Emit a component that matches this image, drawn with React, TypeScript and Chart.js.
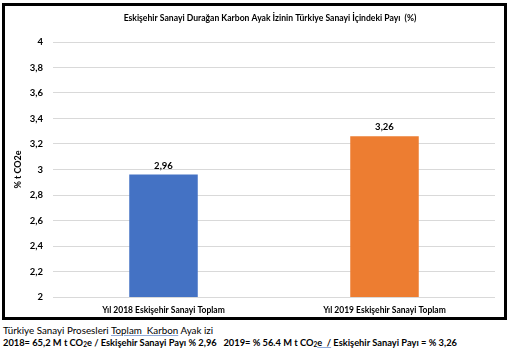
import React, { useEffect, useRef } from "react";
import { Chart, registerables } from "chart.js";

Chart.register(...registerables);

const categories = ["Yıl 2018 Eskişehir Sanayi Toplam", "Yıl 2019 Eskişehir Sanayi Toplam"];
const values = [2.96, 3.26];
const barColors = ["#4472C4", "#ED7D31"];
const titleText = "Eskişehir Sanayi Durağan Karbon Ayak İzinin Türkiye Sanayi İçindeki Payı  (%)";
const yAxisTitle = "% t CO2e";
const yMin = 2;
const yMax = 4;
const yStep = 0.2;

const FONT = "Lato, 'Open Sans', sans-serif";

const fmt = (v: number) => {
  const r = Math.round(v * 100) / 100;
  return String(r).replace(".", ",");
};

const valueLabels = {
  id: "valueLabels",
  afterDatasetsDraw(chart: any) {
    const ctx = chart.ctx;
    const meta = chart.getDatasetMeta(0);
    ctx.save();
    ctx.font = `bold 9.5px ${FONT}`;
    ctx.fillStyle = "#000";
    ctx.textAlign = "center";
    ctx.textBaseline = "middle";
    meta.data.forEach((el: any, i: number) => {
      ctx.fillText(fmt(values[i]), el.x, el.y - 9);
    });
    ctx.restore();
  },
};

const customTitle = {
  id: "customTitle",
  afterDraw(chart: any) {
    const ctx = chart.ctx;
    ctx.save();
    ctx.font = `bold 8.6px ${FONT}`;
    ctx.fillStyle = "#000";
    ctx.textAlign = "center";
    ctx.textBaseline = "middle";
    ctx.fillText(titleText, 265, 12);
    ctx.restore();
  },
};

export default function App() {
  const ref = useRef<HTMLCanvasElement>(null);
  useEffect(() => {
    if (!ref.current) return;
    const chart = new Chart(ref.current, {
      type: "bar",
      data: {
        labels: categories,
        datasets: [
          {
            data: values,
            backgroundColor: barColors,
            borderWidth: 0,
            categoryPercentage: 1,
            barPercentage: 0.31,
          },
        ],
      },
      options: {
        animation: false,
        responsive: false,
        maintainAspectRatio: false,
        layout: { padding: { top: 36, right: 9, bottom: 0, left: 0 } },
        plugins: {
          legend: { display: false },
          tooltip: { enabled: false },
          title: { display: false },
        },
        scales: {
          x: {
            grid: { display: false, drawTicks: false },
            border: { display: false },
            afterFit: (scale: any) => {
              scale.height = 20;
            },
            ticks: {
              color: "#000",
              font: { family: FONT, size: 8.5, weight: "bold" },
              padding: 8,
              maxRotation: 0,
            },
          },
          y: {
            min: yMin,
            max: yMax,
            grid: { color: "#d9d9d9", drawTicks: false },
            border: { display: false },
            afterFit: (scale: any) => {
              scale.width = 48;
            },
            ticks: {
              stepSize: yStep,
              color: "#000",
              padding: 10,
              font: { family: FONT, size: 9.5, weight: "bold" },
              callback: (v: any) => fmt(Number(v)),
            },
            title: {
              display: true,
              text: yAxisTitle,
              color: "#000",
              font: { family: FONT, size: 9, weight: "bold" },
              padding: { top: 8, bottom: 0 },
            },
          },
        },
      },
      plugins: [valueLabels, customTitle],
    });
    return () => chart.destroy();
  }, []);

  return (
    <div style={{ position: "fixed", left: 0, top: 0, width: 513, height: 353, background: "#fff", fontFamily: FONT }}>
      <div
        style={{
          position: "absolute",
          left: 2,
          top: 3,
          width: 499,
          height: 311,
          border: "3px solid #000",
        }}
      >
        <canvas ref={ref} width={499} height={311} style={{ display: "block", width: 499, height: 311 }} />
      </div>
      <div style={{ position: "absolute", left: 3, top: 323, fontSize: 9.8, color: "#000", whiteSpace: "nowrap", lineHeight: "14px" }}>
        Türkiye Sanayi Prosesleri{" "}
        <span style={{ textDecoration: "underline", textDecorationColor: "#8fa9d8" }}>Toplam&nbsp; Karbon</span> Ayak izi
      </div>
      <div style={{ position: "absolute", left: 3, top: 336, fontSize: 9.3, fontWeight: "bold", color: "#000", whiteSpace: "nowrap", lineHeight: "14px" }}>
        2018= 65,2 M t CO<sub style={{ fontSize: 6.5, verticalAlign: "-1px" }}>2</sub>e / Eskişehir Sanayi Payı % 2,96&nbsp;&nbsp; 2019= % 56.4 M t CO
        <sub style={{ fontSize: 6.5, verticalAlign: "-1px" }}>2</sub>
        <span style={{ textDecoration: "underline", textDecorationColor: "#8fa9d8" }}>e&nbsp; /</span> Eskişehir Sanayi Payı = % 3,26
      </div>
    </div>
  );
}
